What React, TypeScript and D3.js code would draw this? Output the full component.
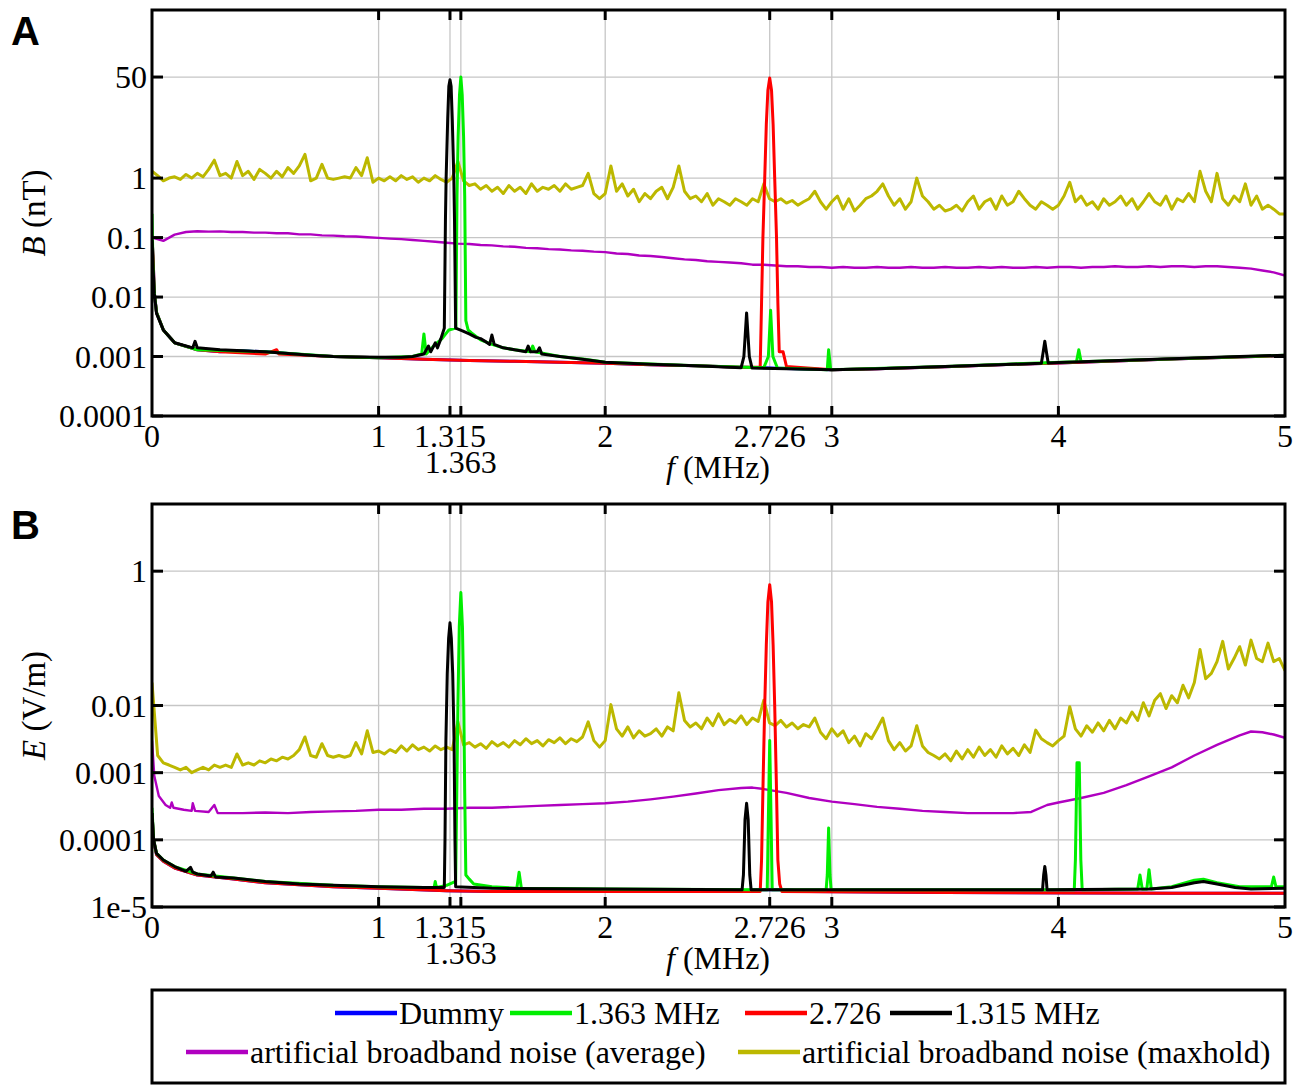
import React, { useEffect, useRef } from "react";
import * as d3 from "d3";

// ---- data ----
const STEP = 0.025; // MHz, sampling of the maxhold traces
const AVG_STEP = 0.05; // MHz, sampling of the averaged trace in A

const xGrid = [1, 1.315, 1.363, 2, 2.726, 3, 4];
const xLabelsRow1 = [0, 1, 1.315, 2, 2.726, 3, 4, 5];
const xLabelsRow2 = [1.363];

const yTicksA = [50, 1, 0.1, 0.01, 0.001, 0.0001];
const yLabelsA = ["50", "1", "0.1", "0.01", "0.001", "0.0001"];
const yTicksB = [1, 0.01, 0.001, 0.0001, 1e-5];
const yLabelsB = ["1", "0.01", "0.001", "0.0001", "1e-5"];

// panel A, magnetic field B (nT)
const maxholdA = [
  1.3, 1.1, 0.9, 1.0, 1.05, 0.95, 1.15, 1.0, 1.2, 1.05,
  1.4, 2.0, 1.1, 1.2, 1.0, 1.9, 1.1, 1.3, 0.95, 1.4,
  1.2, 1.0, 1.3, 1.05, 1.5, 1.2, 1.6, 2.5, 0.9, 1.0,
  1.7, 1.0, 0.95, 1.0, 1.05, 1.0, 1.5, 1.1, 2.2, 0.85,
  1.0, 0.9, 1.05, 0.9, 1.1, 0.95, 1.05, 0.85, 1.0, 0.9,
  1.1, 0.95, 0.85, 1.0, 1.9, 0.9, 0.75, 0.8, 0.65, 0.75,
  0.6, 0.7, 0.55, 0.75, 0.6, 0.7, 0.55, 0.8, 0.6, 0.7,
  0.65, 0.75, 0.6, 0.8, 0.65, 0.7, 0.75, 1.2, 0.55, 0.45,
  0.55, 1.6, 0.6, 0.8, 0.5, 0.65, 0.4, 0.55, 0.45, 0.6,
  0.7, 0.45, 0.7, 1.6, 0.6, 0.45, 0.5, 0.4, 0.55, 0.35,
  0.45, 0.4, 0.35, 0.45, 0.4, 0.35, 0.45, 0.4, 0.8, 0.45,
  0.4, 0.45, 0.38, 0.42, 0.35, 0.4, 0.45, 0.6, 0.4, 0.3,
  0.4, 0.5, 0.3, 0.45, 0.28, 0.35, 0.45, 0.5, 0.6, 0.8,
  0.5, 0.35, 0.45, 0.3, 0.4, 1.0, 0.5, 0.4, 0.3, 0.35,
  0.28, 0.3, 0.35, 0.28, 0.4, 0.5, 0.3, 0.4, 0.45, 0.3,
  0.5, 0.35, 0.4, 0.6, 0.45, 0.35, 0.3, 0.4, 0.35, 0.3,
  0.35, 0.5, 0.85, 0.4, 0.5, 0.35, 0.4, 0.3, 0.45, 0.35,
  0.4, 0.5, 0.35, 0.45, 0.3, 0.4, 0.55, 0.4, 0.35, 0.5,
  0.3, 0.45, 0.4, 0.55, 0.4, 1.3, 0.6, 0.4, 1.2, 0.45,
  0.35, 0.5, 0.4, 0.8, 0.35, 0.5, 0.3, 0.35, 0.3, 0.25,
  0.25,
];

const averageA = [
  0.1, 0.088, 0.112, 0.124, 0.128, 0.126, 0.127, 0.124, 0.124, 0.121,
  0.121, 0.118, 0.118, 0.113, 0.113, 0.109, 0.108, 0.105, 0.104, 0.101,
  0.099, 0.096, 0.094, 0.091, 0.088, 0.085, 0.082, 0.079, 0.078, 0.075,
  0.074, 0.071, 0.07, 0.067, 0.066, 0.064, 0.063, 0.061, 0.06, 0.058,
  0.057, 0.054, 0.053, 0.05, 0.049, 0.047, 0.045, 0.043, 0.042, 0.04,
  0.039, 0.038, 0.037, 0.035, 0.035, 0.034, 0.033, 0.033, 0.032, 0.032,
  0.031, 0.032, 0.031, 0.031, 0.032, 0.031, 0.031, 0.032, 0.031, 0.031,
  0.032, 0.031, 0.031, 0.032, 0.031, 0.032, 0.031, 0.031, 0.032, 0.031,
  0.032, 0.032, 0.031, 0.032, 0.032, 0.033, 0.032, 0.032, 0.033, 0.032,
  0.033, 0.033, 0.032, 0.033, 0.033, 0.032, 0.031, 0.03, 0.028, 0.026,
  0.023,
];

const dummyA = [
  [0, 0.1], [0.005, 0.045], [0.01, 0.012], [0.02, 0.0055], [0.05, 0.0028], [0.1, 0.0017],
  [0.2, 0.0013], [0.3, 0.0012], [0.4, 0.00125], [0.5, 0.0012], [0.6, 0.00112], [0.7, 0.00105],
  [0.8, 0.001], [1.0, 0.00095], [1.2, 0.0009], [1.4, 0.00086], [1.6, 0.00083], [1.8, 0.0008],
  [2.0, 0.00077], [2.2, 0.00073], [2.4, 0.0007], [2.6, 0.00066], [2.8, 0.00063], [3.0, 0.0006],
  [3.2, 0.00062], [3.5, 0.00067], [3.8, 0.00074], [4.0, 0.00078], [4.5, 0.00091], [5.0, 0.00104],
];

const f2726A = [
  [0, 0.1], [0.005, 0.045], [0.01, 0.012], [0.02, 0.0055], [0.05, 0.0028], [0.1, 0.0017],
  [0.2, 0.0013], [0.3, 0.0012], [0.5, 0.0011], [0.55, 0.0013], [0.56, 0.0011], [0.8, 0.001],
  [1.0, 0.00095], [1.2, 0.0009], [1.4, 0.00086], [1.6, 0.00083], [1.8, 0.0008], [2.0, 0.00077],
  [2.2, 0.00073], [2.4, 0.0007], [2.6, 0.00066], [2.684, 0.00066], [2.69, 0.008], [2.696, 0.1],
  [2.704, 1], [2.711, 8], [2.718, 30], [2.726, 48], [2.734, 30], [2.741, 8], [2.748, 1],
  [2.756, 0.1], [2.762, 0.008], [2.768, 0.0012], [2.785, 0.0012], [2.8, 0.00068],
  [3.0, 0.0006], [3.2, 0.00062], [3.5, 0.00067], [3.8, 0.00074], [4.0, 0.00078],
  [4.5, 0.00091], [5.0, 0.00104],
];

const f1363A = [
  [0, 0.25], [0.004, 0.04], [0.01, 0.012], [0.02, 0.0055], [0.05, 0.0028], [0.1, 0.0017],
  [0.2, 0.0013], [0.5, 0.0012], [0.8, 0.001], [1.0, 0.00095], [1.15, 0.001], [1.19, 0.0011],
  [1.2, 0.0024], [1.21, 0.0011], [1.25, 0.0016], [1.28, 0.002], [1.31, 0.0028], [1.341, 0.003],
  [1.346, 0.5], [1.351, 5], [1.357, 25], [1.363, 50], [1.369, 25], [1.375, 5], [1.38, 0.5],
  [1.385, 0.004], [1.395, 0.0028], [1.41, 0.0025], [1.45, 0.0019], [1.5, 0.0016],
  [1.55, 0.0014], [1.6, 0.0013], [1.67, 0.0012], [1.68, 0.0015], [1.69, 0.0012], [1.8, 0.001],
  [1.91, 0.0009], [2.0, 0.0008], [2.4, 0.0007], [2.7, 0.00065], [2.72, 0.001], [2.73, 0.006],
  [2.74, 0.001], [2.76, 0.00064], [2.98, 0.0006], [2.986, 0.0013], [2.995, 0.0006],
  [3.5, 0.00068], [4.08, 0.00082], [4.09, 0.0013], [4.1, 0.00082], [5.0, 0.00105],
];

const f1315A = [
  [0, 0.09], [0.005, 0.03], [0.01, 0.0115], [0.02, 0.0053], [0.05, 0.0028], [0.1, 0.0017],
  [0.15, 0.0015], [0.18, 0.0014], [0.19, 0.0018], [0.2, 0.0014], [0.3, 0.0013], [0.4, 0.00125],
  [0.5, 0.0012], [0.6, 0.00112], [0.7, 0.00105], [0.8, 0.001], [0.9, 0.00098], [1.0, 0.00097],
  [1.1, 0.00097], [1.15, 0.001], [1.2, 0.0011], [1.22, 0.0015], [1.23, 0.0012], [1.25, 0.0017],
  [1.26, 0.0014], [1.275, 0.002], [1.29, 0.003], [1.295, 0.2], [1.298, 1], [1.305, 10],
  [1.31, 35], [1.315, 45], [1.32, 35], [1.325, 10], [1.332, 1], [1.335, 0.2], [1.34, 0.003],
  [1.37, 0.0027], [1.4, 0.0024], [1.43, 0.0021], [1.45, 0.002], [1.47, 0.0018], [1.49, 0.0016],
  [1.5, 0.0023], [1.51, 0.0016], [1.55, 0.0014], [1.6, 0.0013], [1.65, 0.0012], [1.66, 0.0015],
  [1.67, 0.0012], [1.7, 0.0012], [1.71, 0.0014], [1.72, 0.0011], [1.8, 0.001], [1.9, 0.0009],
  [2.0, 0.0008], [2.2, 0.00074], [2.4, 0.0007], [2.6, 0.00065], [2.612, 0.001], [2.624, 0.0054],
  [2.636, 0.001], [2.648, 0.00064], [2.8, 0.00062], [3.0, 0.0006], [3.2, 0.00062], [3.4, 0.00066],
  [3.6, 0.0007], [3.8, 0.00074], [3.925, 0.00077], [3.933, 0.0012], [3.94, 0.0018],
  [3.947, 0.0012], [3.955, 0.00078], [4.0, 0.00079], [4.2, 0.00084], [4.4, 0.00089],
  [4.6, 0.00094], [4.8, 0.001], [5.0, 0.00105],
];

// panel B, electric field E (V/m)
const maxholdB = [
  0.022, 0.0018, 0.0014, 0.0013, 0.0012, 0.0011, 0.0012, 0.001, 0.0011, 0.0012,
  0.0011, 0.0013, 0.0012, 0.0013, 0.0012, 0.0019, 0.0013, 0.0014, 0.0013, 0.0015,
  0.0014, 0.0016, 0.0015, 0.0017, 0.0016, 0.0018, 0.0022, 0.0034, 0.0018, 0.0017,
  0.0027, 0.0018, 0.0017, 0.0018, 0.0017, 0.0018, 0.0028, 0.0019, 0.0042, 0.002,
  0.0021, 0.0019, 0.0022, 0.002, 0.0025, 0.0021, 0.0026, 0.0022, 0.0024, 0.0021,
  0.0025, 0.0022, 0.0024, 0.0022, 0.0057, 0.0026, 0.0028, 0.0024, 0.0027, 0.0023,
  0.0029, 0.0025, 0.0028, 0.0024, 0.003, 0.0026, 0.0032, 0.0027, 0.003, 0.0025,
  0.0031, 0.0028, 0.0033, 0.0027, 0.0032, 0.0029, 0.0034, 0.0057, 0.003, 0.0024,
  0.003, 0.0103, 0.0045, 0.0035, 0.0048, 0.0033, 0.0042, 0.0035, 0.0038, 0.0045,
  0.0035, 0.0048, 0.0042, 0.0155, 0.006, 0.0048, 0.0055, 0.0045, 0.0065, 0.005,
  0.0075, 0.0052, 0.0062, 0.0055, 0.007, 0.0052, 0.0065, 0.0058, 0.012, 0.0055,
  0.005, 0.006, 0.0048, 0.0055, 0.0045, 0.0052, 0.0048, 0.0065, 0.004, 0.0032,
  0.0045, 0.0035, 0.0042, 0.0028, 0.0035, 0.0025, 0.0038, 0.0032, 0.0045, 0.0065,
  0.003, 0.0022, 0.0028, 0.0021, 0.0025, 0.005, 0.0025, 0.002, 0.0018, 0.0016,
  0.0019, 0.0015, 0.0021, 0.0016, 0.0022, 0.0017, 0.0024, 0.0018, 0.0022, 0.0017,
  0.0025, 0.0019, 0.0023, 0.0018, 0.0026, 0.002, 0.0043, 0.0032, 0.0028, 0.0025,
  0.003, 0.0035, 0.0096, 0.0045, 0.0035, 0.005, 0.004, 0.0055, 0.0042, 0.006,
  0.0045, 0.0065, 0.0055, 0.008, 0.006, 0.011, 0.007, 0.012, 0.015, 0.009,
  0.014, 0.011, 0.02, 0.013, 0.022, 0.068, 0.025, 0.03, 0.045, 0.09,
  0.035, 0.05, 0.075, 0.04, 0.094, 0.05, 0.045, 0.085, 0.045, 0.05,
  0.033,
];

const averageB = [
  [0, 0.003], [0.01, 0.0009], [0.03, 0.00045], [0.06, 0.00033], [0.08, 0.0003], [0.087, 0.00036],
  [0.095, 0.0003], [0.14, 0.00028], [0.175, 0.00027], [0.18, 0.00035], [0.19, 0.00027],
  [0.25, 0.00026], [0.275, 0.00033], [0.29, 0.00025], [0.4, 0.00025], [0.5, 0.000255],
  [0.6, 0.00025], [0.7, 0.00026], [0.8, 0.000265], [0.9, 0.00027], [1.0, 0.00028],
  [1.1, 0.00028], [1.2, 0.00029], [1.3, 0.00029], [1.4, 0.0003], [1.5, 0.0003], [1.6, 0.00031],
  [1.7, 0.00032], [1.8, 0.00033], [1.9, 0.00034], [2.0, 0.00035], [2.1, 0.00037], [2.2, 0.0004],
  [2.3, 0.00044], [2.4, 0.00049], [2.5, 0.00055], [2.6, 0.00059], [2.65, 0.0006], [2.7, 0.00057],
  [2.8, 0.0005], [2.9, 0.00042], [3.0, 0.00037], [3.1, 0.00034], [3.2, 0.00031], [3.3, 0.00029],
  [3.4, 0.00027], [3.5, 0.00026], [3.6, 0.00025], [3.7, 0.00025], [3.8, 0.00025], [3.88, 0.00026],
  [3.95, 0.00033], [4.0, 0.00036], [4.1, 0.00042], [4.2, 0.0005], [4.3, 0.00065], [4.4, 0.00088],
  [4.5, 0.0012], [4.6, 0.0018], [4.7, 0.0026], [4.8, 0.0036], [4.85, 0.0041], [4.9, 0.004],
  [4.95, 0.0037], [5.0, 0.0033],
];

const dummyB = [
  [0, 0.00025], [0.007, 0.0001], [0.02, 6e-5], [0.05, 4.8e-5], [0.1, 3.8e-5], [0.2, 3e-5],
  [0.36, 2.6e-5], [0.5, 2.3e-5], [0.8, 2e-5], [1.0, 1.9e-5], [1.3, 1.75e-5], [1.5, 1.7e-5],
  [2.0, 1.7e-5], [2.6, 1.7e-5], [2.66, 1.8e-5], [2.8, 1.8e-5], [2.9, 1.7e-5], [3.5, 1.65e-5],
  [4.5, 1.6e-5], [5.0, 1.6e-5],
];

const f2726B = [
  [0, 0.00025], [0.007, 0.0001], [0.02, 6e-5], [0.05, 4.8e-5], [0.1, 3.8e-5], [0.2, 3e-5],
  [0.36, 2.6e-5], [0.5, 2.3e-5], [0.8, 2e-5], [1.0, 1.9e-5], [1.3, 1.75e-5], [1.5, 1.7e-5],
  [2.0, 1.7e-5], [2.684, 1.7e-5], [2.69, 5e-5], [2.697, 0.0008], [2.704, 0.01], [2.711, 0.08],
  [2.718, 0.35], [2.726, 0.63], [2.734, 0.35], [2.741, 0.08], [2.748, 0.01], [2.755, 0.0008],
  [2.762, 5e-5], [2.77, 2.2e-5], [2.78, 1.7e-5], [3.5, 1.65e-5], [4.5, 1.6e-5], [5.0, 1.6e-5],
];

const f1363B = [
  [0, 0.0003], [0.007, 0.0001], [0.02, 6.3e-5], [0.05, 5e-5], [0.1, 4e-5], [0.2, 3.1e-5],
  [0.36, 2.7e-5], [0.5, 2.4e-5], [0.8, 2.1e-5], [1.0, 2e-5], [1.2, 1.95e-5], [1.245, 1.95e-5],
  [1.25, 2.4e-5], [1.255, 1.95e-5], [1.3, 2.1e-5], [1.34, 2.4e-5], [1.345, 0.0005],
  [1.35, 0.01], [1.356, 0.15], [1.363, 0.48], [1.37, 0.15], [1.376, 0.01], [1.38, 0.0005],
  [1.385, 3e-5], [1.4, 2.6e-5], [1.42, 2.2e-5], [1.5, 2e-5], [1.61, 1.9e-5], [1.62, 3.3e-5],
  [1.63, 1.9e-5], [2.0, 1.85e-5], [2.715, 1.8e-5], [2.72, 0.0002], [2.726, 0.003],
  [2.732, 0.0002], [2.737, 1.8e-5], [2.975, 1.8e-5], [2.98, 3e-5], [2.986, 0.00015],
  [2.992, 3e-5], [2.997, 1.8e-5], [4.07, 1.8e-5], [4.075, 5e-5], [4.082, 0.0014],
  [4.092, 0.0014], [4.099, 5e-5], [4.105, 1.8e-5], [4.35, 1.85e-5], [4.36, 3e-5],
  [4.37, 1.85e-5], [4.39, 1.85e-5], [4.4, 3.6e-5], [4.41, 1.85e-5], [4.5, 2e-5],
  [4.6, 2.5e-5], [4.64, 2.6e-5], [4.7, 2.3e-5], [4.8, 2e-5], [4.94, 2e-5], [4.95, 2.8e-5],
  [4.96, 2e-5], [5.0, 2e-5],
];

const f1315B = [
  [0, 0.00025], [0.007, 0.0001], [0.02, 6.3e-5], [0.05, 5e-5], [0.1, 4e-5], [0.15, 3.4e-5],
  [0.17, 3.9e-5], [0.18, 3.3e-5], [0.2, 3.1e-5], [0.26, 2.9e-5], [0.27, 3.3e-5], [0.28, 2.8e-5],
  [0.36, 2.7e-5], [0.5, 2.4e-5], [0.65, 2.2e-5], [0.8, 2.1e-5], [1.0, 2e-5], [1.2, 1.95e-5],
  [1.29, 1.95e-5], [1.293, 0.0001], [1.297, 0.003], [1.303, 0.03], [1.309, 0.1], [1.315, 0.17],
  [1.321, 0.1], [1.327, 0.03], [1.333, 0.003], [1.337, 0.0001], [1.34, 2e-5], [1.5, 1.9e-5],
  [2.0, 1.85e-5], [2.604, 1.8e-5], [2.61, 3e-5], [2.617, 0.0002], [2.624, 0.00035],
  [2.631, 0.0002], [2.638, 3e-5], [2.644, 1.8e-5], [3.0, 1.8e-5], [3.5, 1.8e-5],
  [3.93, 1.8e-5], [3.935, 3e-5], [3.94, 4e-5], [3.945, 3e-5], [3.95, 1.8e-5], [4.4, 1.85e-5],
  [4.5, 1.95e-5], [4.6, 2.3e-5], [4.64, 2.4e-5], [4.7, 2.2e-5], [4.78, 1.95e-5],
  [4.85, 1.85e-5], [5.0, 1.9e-5],
];

// ---- styling ----
const COLORS = {
  dummy: "#0000ff",
  f1363: "#00ee00",
  f2726: "#ff0000",
  f1315: "#000000",
  avg: "#b000c0",
  max: "#bcb800",
};

const legendNames = {
  dummy: "Dummy",
  f1363: "1.363 MHz",
  f2726: "2.726",
  f1315: "1.315 MHz",
  avg: "artificial broadband noise (average)",
  max: "artificial broadband noise (maxhold)",
};

const SERIF = "'Liberation Serif', 'Times New Roman', serif";
const SANS = "'Liberation Sans', Arial, sans-serif";
const X0 = 152;
const X1 = 1285;
const TICK_FONT = 32;

const sampled = (vals: number[], step: number) => vals.map((v, i) => [i * step, v]);

const panels = [
  {
    letter: "A",
    top: 10,
    bottom: 416,
    yDomain: [1e-4, 670],
    yTicks: yTicksA,
    yLabels: yLabelsA,
    yTitle: ["B", " (nT)"],
    series: [
      { key: "max", pts: sampled(maxholdA, STEP), w: 3 },
      { key: "avg", pts: sampled(averageA, AVG_STEP), w: 2.4 },
      { key: "dummy", pts: dummyA, w: 3 },
      { key: "f2726", pts: f2726A, w: 3 },
      { key: "f1363", pts: f1363A, w: 3 },
      { key: "f1315", pts: f1315A, w: 3 },
    ],
  },
  {
    letter: "B",
    top: 504,
    bottom: 907,
    yDomain: [1e-5, 10],
    yTicks: yTicksB,
    yLabels: yLabelsB,
    yTitle: ["E", " (V/m)"],
    series: [
      { key: "max", pts: sampled(maxholdB, STEP), w: 3 },
      { key: "avg", pts: averageB, w: 2.4 },
      { key: "dummy", pts: dummyB, w: 3 },
      { key: "f2726", pts: f2726B, w: 3 },
      { key: "f1363", pts: f1363B, w: 3 },
      { key: "f1315", pts: f1315B, w: 3 },
    ],
  },
];

const legendLayout = [
  { key: "dummy", x: 335, row: 0 },
  { key: "f1363", x: 510, row: 0 },
  { key: "f2726", x: 745, row: 0 },
  { key: "f1315", x: 890, row: 0 },
  { key: "avg", x: 186, row: 1 },
  { key: "max", x: 738, row: 1 },
];

const App = () => {
  const ref = useRef<SVGSVGElement>(null);

  useEffect(() => {
    const svg = d3.select(ref.current);
    svg.selectAll("*").remove();

    const x = d3.scaleLinear().domain([0, 5]).range([X0, X1]);

    panels.forEach((p) => {
      const y = d3.scaleLog().domain(p.yDomain).range([p.bottom, p.top]);
      const g = svg.append("g");
      const clipId = `clip-${p.letter}`;
      svg
        .append("clipPath")
        .attr("id", clipId)
        .append("rect")
        .attr("x", X0)
        .attr("y", p.top)
        .attr("width", X1 - X0)
        .attr("height", p.bottom - p.top);

      // grid
      g.selectAll(".vgrid")
        .data(xGrid)
        .join("line")
        .attr("class", "vgrid")
        .attr("x1", (d) => x(d))
        .attr("x2", (d) => x(d))
        .attr("y1", p.top)
        .attr("y2", p.bottom)
        .attr("stroke", "#c6c6c6")
        .attr("stroke-width", 1.3);
      g.selectAll(".hgrid")
        .data(p.yTicks)
        .join("line")
        .attr("class", "hgrid")
        .attr("x1", X0)
        .attr("x2", X1)
        .attr("y1", (d) => y(d))
        .attr("y2", (d) => y(d))
        .attr("stroke", "#c6c6c6")
        .attr("stroke-width", 1.3);

      // traces
      const line = d3
        .line<number[]>()
        .x((d) => x(d[0]))
        .y((d) => y(d[1]));
      p.series.forEach((s) => {
        g.append("path")
          .attr("d", line(s.pts as number[][]))
          .attr("fill", "none")
          .attr("stroke", COLORS[s.key as keyof typeof COLORS])
          .attr("stroke-width", s.w)
          .attr("stroke-linejoin", "round")
          .attr("clip-path", `url(#${clipId})`);
      });

      // inward ticks
      const tk = g.append("g").attr("stroke", "#000").attr("stroke-width", 3);
      xGrid.forEach((d) => {
        tk.append("line").attr("x1", x(d)).attr("x2", x(d)).attr("y1", p.bottom).attr("y2", p.bottom - 10);
        tk.append("line").attr("x1", x(d)).attr("x2", x(d)).attr("y1", p.top).attr("y2", p.top + 10);
      });
      p.yTicks.forEach((d) => {
        tk.append("line").attr("x1", X0).attr("x2", X0 + 11).attr("y1", y(d)).attr("y2", y(d));
        tk.append("line").attr("x1", X1).attr("x2", X1 - 11).attr("y1", y(d)).attr("y2", y(d));
      });

      // frame
      g.append("rect")
        .attr("x", X0)
        .attr("y", p.top)
        .attr("width", X1 - X0)
        .attr("height", p.bottom - p.top)
        .attr("fill", "none")
        .attr("stroke", "#000")
        .attr("stroke-width", 3);

      // y tick labels
      g.selectAll(".ylab")
        .data(p.yTicks)
        .join("text")
        .attr("class", "ylab")
        .attr("x", X0 - 5)
        .attr("y", (d) => y(d))
        .attr("dy", "0.35em")
        .attr("text-anchor", "end")
        .attr("font-family", SERIF)
        .attr("font-size", TICK_FONT)
        .text((d, i) => p.yLabels[i]);

      // x tick labels (two rows: 1.363 sits under 1.315)
      g.selectAll(".xlab1")
        .data(xLabelsRow1)
        .join("text")
        .attr("class", "xlab1")
        .attr("x", (d) => x(d))
        .attr("y", p.bottom + 31)
        .attr("text-anchor", "middle")
        .attr("font-family", SERIF)
        .attr("font-size", TICK_FONT)
        .text((d) => String(d));
      g.selectAll(".xlab2")
        .data(xLabelsRow2)
        .join("text")
        .attr("class", "xlab2")
        .attr("x", (d) => x(d))
        .attr("y", p.bottom + 57)
        .attr("text-anchor", "middle")
        .attr("font-family", SERIF)
        .attr("font-size", TICK_FONT)
        .text((d) => String(d));

      // x title
      const xt = g
        .append("text")
        .attr("x", 718)
        .attr("y", p.bottom + 62)
        .attr("text-anchor", "middle")
        .attr("font-family", SERIF)
        .attr("font-size", 32);
      xt.append("tspan").attr("font-style", "italic").text("f");
      xt.append("tspan").text(" (MHz)");

      // y title
      const yt = g
        .append("text")
        .attr("transform", `translate(45,${(p.top + p.bottom) / 2}) rotate(-90)`)
        .attr("text-anchor", "middle")
        .attr("font-family", SERIF)
        .attr("font-size", 33);
      yt.append("tspan").attr("font-style", "italic").text(p.yTitle[0]);
      yt.append("tspan").text(p.yTitle[1]);

      // panel letter
      g.append("text")
        .attr("x", 11)
        .attr("y", p.top + 35)
        .attr("font-family", SANS)
        .attr("font-weight", "bold")
        .attr("font-size", 40)
        .text(p.letter);
    });

    // legend
    const lg = svg.append("g");
    lg.append("rect")
      .attr("x", X0)
      .attr("y", 990)
      .attr("width", X1 - X0)
      .attr("height", 93)
      .attr("fill", "#fff")
      .attr("stroke", "#000")
      .attr("stroke-width", 3);
    const rowY = [1013, 1052];
    legendLayout.forEach((e) => {
      const yy = rowY[e.row];
      lg.append("line")
        .attr("x1", e.x)
        .attr("x2", e.x + 62)
        .attr("y1", yy)
        .attr("y2", yy)
        .attr("stroke", COLORS[e.key as keyof typeof COLORS])
        .attr("stroke-width", 4.5);
      lg.append("text")
        .attr("x", e.x + 64)
        .attr("y", yy + 11)
        .attr("font-family", SERIF)
        .attr("font-size", 32)
        .text(legendNames[e.key as keyof typeof legendNames]);
    });
  }, []);

  return (
    <svg
      ref={ref}
      width={1300}
      height={1092}
      style={{ position: "absolute", left: 0, top: 0, background: "#fff" }}
    />
  );
};

export default App;
